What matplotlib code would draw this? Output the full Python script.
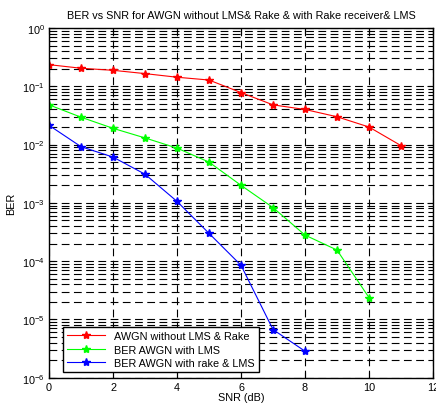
import numpy as np
import matplotlib.pyplot as plt
from matplotlib.ticker import LogLocator, NullFormatter, MultipleLocator

plt.rcParams['font.family'] = ['Liberation Sans', 'DejaVu Sans']

snr_red = [0, 1, 2, 3, 4, 5, 6, 7, 8, 9, 10, 11]
ber_red = [0.235, 0.204, 0.188, 0.165, 0.143, 0.128, 0.078, 0.048, 0.040, 0.030, 0.020, 0.0096]

snr_green = [0, 1, 2, 3, 4, 5, 6, 7, 8, 9, 10]
ber_green = [0.048, 0.0295, 0.019, 0.013, 0.0087, 0.005, 0.0020, 0.00083, 0.00028, 0.000155, 2.37e-5]

snr_blue = [0, 1, 2, 3, 4, 5, 6, 7, 8]
ber_blue = [0.0214, 0.0092, 0.0061, 0.0031, 0.00106, 0.0003, 8.5e-5, 6.7e-6, 2.85e-6]

labels = ['AWGN without LMS & Rake', 'BER AWGN with LMS', 'BER AWGN with rake & LMS']

my_dpi = 100
fs = 7.8
fig = plt.figure(figsize=(436/my_dpi, 406/my_dpi), dpi=my_dpi)
ax = fig.add_axes([49/436, 27.3/406, 384/436, 349.7/406])

ax.semilogy(snr_red, ber_red, color='red', marker='*', markersize=6, linewidth=0.8, label=labels[0])
ax.semilogy(snr_green, ber_green, color='#00ff00', marker='*', markersize=6, linewidth=0.8, label=labels[1])
ax.semilogy(snr_blue, ber_blue, color='blue', marker='*', markersize=6, linewidth=0.8, label=labels[2])

ax.set_xlim(0, 12)
ax.set_ylim(1e-6, 1)
ax.xaxis.set_major_locator(MultipleLocator(2))
ax.yaxis.set_major_locator(LogLocator(base=10, numticks=10))
ax.yaxis.set_minor_locator(LogLocator(base=10, subs=np.arange(2, 10), numticks=20))
ax.yaxis.set_minor_formatter(NullFormatter())

ax.grid(True, which='major', color='black', linestyle=(0, (7, 4)), linewidth=0.8)
ax.grid(True, which='minor', axis='y', color='black', linestyle=(0, (7, 4)), linewidth=0.8)

ax.tick_params(which='both', direction='in', top=True, right=True, labelsize=fs, pad=3)
ax.tick_params(which='major', length=4)
ax.tick_params(which='minor', length=2)
for s in ax.spines.values():
    s.set_linewidth(1)

ax.set_title('BER vs SNR for AWGN without LMS& Rake & with Rake receiver& LMS', fontsize=fs, pad=7)
ax.set_xlabel('SNR (dB)', fontsize=fs, labelpad=0)
ax.set_ylabel('BER', fontsize=fs, labelpad=4)

leg = ax.legend(loc='lower left', bbox_to_anchor=(0.036, 0.016), fontsize=fs, fancybox=False,
                framealpha=1, edgecolor='black', borderaxespad=0, handlelength=3.5,
                labelspacing=0.3)
leg.get_frame().set_linewidth(1)

plt.savefig('out.png', dpi=my_dpi)
